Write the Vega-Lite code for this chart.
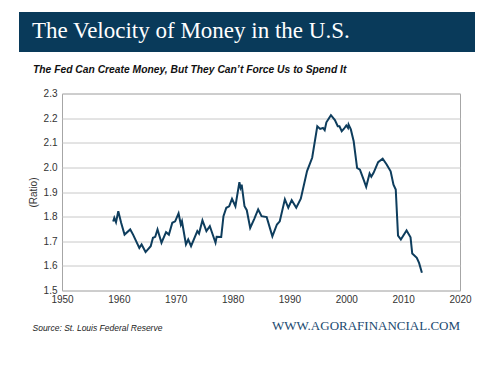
{
  "$schema": "https://vega.github.io/schema/vega-lite/v6.json",
  "background": "white",
  "padding": {"left": 19, "top": 12, "right": 0, "bottom": 0},
  "config": {"font": "Liberation Sans", "view": {"stroke": null}},
  "columns": 1,
  "align": "none",
  "spacing": 12.5,
  "concat": [
    {
      "width": 456,
      "height": 40,
      "view": {"fill": "#093a5a", "stroke": null},
      "data": {"values": []},
      "mark": {"type": "point"},
      "title": {
        "text": "The Velocity of Money in the U.S.",
        "anchor": "start",
        "frame": "group",
        "orient": "top",
        "offset": -49,
        "dx": 13,
        "baseline": "alphabetic",
        "font": "Liberation Serif",
        "fontSize": 23,
        "fontWeight": "normal",
        "color": "white"
      }
    },
    {
      "hconcat": [
        {
          "width": 1,
          "height": 197,
          "data": {"values": []},
          "mark": {"type": "point"},
          "view": {"stroke": null}
        },
        {
          "width": 398,
          "height": 197,
          "view": {"stroke": "#a6a6a6", "strokeWidth": 1},
          "data": {
            "values": [
              {"year": 1959.0, "v": 1.78}, {"year": 1959.2, "v": 1.795}, {"year": 1959.5, "v": 1.777},
              {"year": 1959.9, "v": 1.822}, {"year": 1960.4, "v": 1.775}, {"year": 1961.0, "v": 1.727},
              {"year": 1962.0, "v": 1.748}, {"year": 1962.5, "v": 1.727}, {"year": 1963.6, "v": 1.673},
              {"year": 1964.0, "v": 1.687}, {"year": 1964.7, "v": 1.656}, {"year": 1965.6, "v": 1.68},
              {"year": 1966.0, "v": 1.714}, {"year": 1966.4, "v": 1.718}, {"year": 1966.8, "v": 1.748},
              {"year": 1967.5, "v": 1.694}, {"year": 1968.3, "v": 1.737}, {"year": 1968.8, "v": 1.727},
              {"year": 1969.4, "v": 1.775}, {"year": 1969.9, "v": 1.781}, {"year": 1970.5, "v": 1.813},
              {"year": 1970.9, "v": 1.768}, {"year": 1971.1, "v": 1.781}, {"year": 1971.8, "v": 1.687},
              {"year": 1972.2, "v": 1.707}, {"year": 1972.7, "v": 1.68}, {"year": 1973.8, "v": 1.741},
              {"year": 1974.1, "v": 1.731}, {"year": 1974.7, "v": 1.785}, {"year": 1975.4, "v": 1.741},
              {"year": 1976.0, "v": 1.761}, {"year": 1977.0, "v": 1.694}, {"year": 1977.2, "v": 1.718},
              {"year": 1978.0, "v": 1.717}, {"year": 1978.4, "v": 1.802}, {"year": 1978.9, "v": 1.836},
              {"year": 1979.4, "v": 1.842}, {"year": 1979.9, "v": 1.872}, {"year": 1980.5, "v": 1.842},
              {"year": 1981.2, "v": 1.94}, {"year": 1981.4, "v": 1.917}, {"year": 1981.6, "v": 1.93},
              {"year": 1982.1, "v": 1.842}, {"year": 1982.5, "v": 1.826}, {"year": 1983.1, "v": 1.754},
              {"year": 1983.8, "v": 1.79}, {"year": 1984.5, "v": 1.829}, {"year": 1985.1, "v": 1.802},
              {"year": 1986.0, "v": 1.798}, {"year": 1987.0, "v": 1.72}, {"year": 1987.8, "v": 1.768},
              {"year": 1988.3, "v": 1.781}, {"year": 1989.2, "v": 1.87}, {"year": 1989.8, "v": 1.836},
              {"year": 1990.4, "v": 1.867}, {"year": 1991.2, "v": 1.836}, {"year": 1992.0, "v": 1.873},
              {"year": 1993.1, "v": 1.985}, {"year": 1994.0, "v": 2.039}, {"year": 1994.9, "v": 2.167},
              {"year": 1995.4, "v": 2.156}, {"year": 1995.9, "v": 2.16}, {"year": 1996.2, "v": 2.151},
              {"year": 1996.5, "v": 2.183}, {"year": 1997.3, "v": 2.212}, {"year": 1998.0, "v": 2.192},
              {"year": 1998.5, "v": 2.167}, {"year": 1998.8, "v": 2.167}, {"year": 1999.2, "v": 2.147},
              {"year": 1999.6, "v": 2.157}, {"year": 2000.0, "v": 2.17}, {"year": 2000.3, "v": 2.16},
              {"year": 2000.4, "v": 2.174}, {"year": 2000.8, "v": 2.154}, {"year": 2001.3, "v": 2.106},
              {"year": 2001.9, "v": 1.998}, {"year": 2002.4, "v": 1.991}, {"year": 2003.0, "v": 1.953},
              {"year": 2003.5, "v": 1.921}, {"year": 2004.1, "v": 1.975}, {"year": 2004.4, "v": 1.962},
              {"year": 2004.8, "v": 1.978}, {"year": 2005.6, "v": 2.021}, {"year": 2006.4, "v": 2.035},
              {"year": 2007.1, "v": 2.012}, {"year": 2007.8, "v": 1.984}, {"year": 2008.3, "v": 1.93},
              {"year": 2008.7, "v": 1.91}, {"year": 2009.1, "v": 1.723}, {"year": 2009.6, "v": 1.707},
              {"year": 2010.6, "v": 1.744}, {"year": 2011.3, "v": 1.716}, {"year": 2011.6, "v": 1.65},
              {"year": 2012.4, "v": 1.633}, {"year": 2012.8, "v": 1.612}, {"year": 2013.3, "v": 1.572}
            ]
          },
          "mark": {"type": "line", "color": "#0e3d5d", "strokeWidth": 2},
          "encoding": {
            "x": {
              "field": "year",
              "type": "quantitative",
              "scale": {"domain": [1950, 2020], "nice": false, "zero": false},
              "axis": {
                "values": [1950, 1960, 1970, 1980, 1990, 2000, 2010, 2020],
                "format": "d",
                "grid": false,
                "ticks": false,
                "domain": false,
                "labelPadding": 4,
                "labelFontSize": 10,
                "labelColor": "#333333",
                "labelFlush": false,
                "title": "Source:  St. Louis Federal Reserve",
                "titleAnchor": "start",
                "titleAlign": "left",
                "titleBaseline": "alphabetic",
                "titleX": -30,
                "titleY": 40,
                "titleFontSize": 8.5,
                "titleFontStyle": "italic",
                "titleFontWeight": "normal",
                "titleColor": "#222222"
              }
            },
            "y": {
              "field": "v",
              "type": "quantitative",
              "scale": {"domain": [1.5, 2.3], "nice": false, "zero": false},
              "axis": {
                "values": [1.5, 1.6, 1.7, 1.8, 1.9, 2.0, 2.1, 2.2, 2.3],
                "format": ".1f",
                "ticks": false,
                "domain": false,
                "gridColor": "#c8c8c8",
                "labelPadding": 5,
                "labelFontSize": 10,
                "labelColor": "#333333",
                "title": "(Ratio)",
                "titlePadding": 5,
                "titleFontSize": 10,
                "titleFontWeight": "normal",
                "titleColor": "#333333"
              }
            }
          },
          "title": {
            "text": "WWW.AGORAFINANCIAL.COM",
            "orient": "bottom",
            "anchor": "end",
            "frame": "group",
            "baseline": "alphabetic",
            "offset": -2,
            "font": "Liberation Serif",
            "fontSize": 13,
            "fontWeight": "normal",
            "color": "#1b4a70"
          }
        }
      ],
      "spacing": 42,
      "bounds": "flush",
      "title": {
        "text": "The Fed Can Create Money, But They Can’t Force Us to Spend It",
        "anchor": "start",
        "dx": 14,
        "offset": 5,
        "baseline": "alphabetic",
        "fontSize": 10.3,
        "fontStyle": "italic",
        "fontWeight": "bold",
        "color": "#111111"
      }
    }
  ]
}
